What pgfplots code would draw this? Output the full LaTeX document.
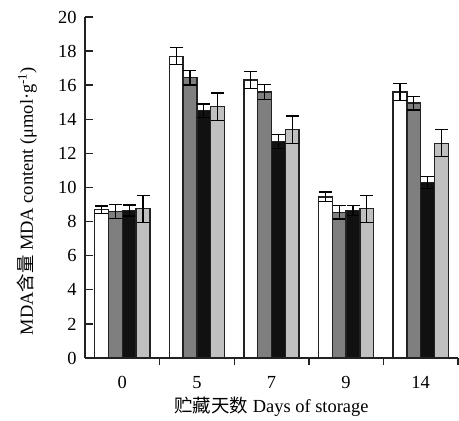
\documentclass[border=0pt]{standalone}
\usepackage{fontspec}
\setmainfont{Liberation Serif}
\newfontfamily\cjk{Noto Sans CJK SC}
\usepackage{pgfplots}
\pgfplotsset{compat=1.18}
\definecolor{gA}{HTML}{FFFFFF}
\definecolor{gB}{HTML}{7F7F7F}
\definecolor{gC}{HTML}{111111}
\definecolor{gD}{HTML}{C0C0C0}
\definecolor{edge}{HTML}{222222}
\pgfplotsset{myerr/.style={
    error bars/y dir=both, error bars/y explicit,
    error bars/error bar style={line width=1.3bp, black},
    error bars/error mark options={rotate=90, mark size=6.5bp, line width=1.3bp, black}}}
\begin{document}
\begin{tikzpicture}
\fontsize{18.5}{21}\selectfont
\begin{axis}[
  scale only axis,
  width=373bp, height=341bp,
  xmin=-0.5, xmax=4.5,
  ymin=0, ymax=20,
  axis lines=left,
  axis line style={line width=1.4bp, edge, -},
  xtick={0,1,2,3,4},
  xticklabels={0,5,7,9,14},
  major x tick style={draw=none},
  minor xtick={0.5,1.5,2.5,3.5,4.5},
  minor x tick style={line width=1.4bp, edge},
  minor tick length=7bp,
  ytick={0,2,...,20},
  y tick style={line width=1.4bp, edge},
  major tick length=8bp,
  tick align=inside,
  /pgf/number format/assume math mode=true,
  ticklabel style={font=\fontsize{18.5}{21}\selectfont},
  xticklabel style={yshift=-4bp},
  yticklabel style={xshift=-2bp},
  xlabel={{\cjk 贮藏天数} Days of storage},
  ylabel={MDA{\cjk 含量} MDA content (μmol·g\textsuperscript{-1})},
  label style={font=\fontsize{18.5}{21}\selectfont},
  xlabel style={yshift=4bp},
  ylabel style={at={(axis description cs:-0.155,0.46)}, anchor=center},
  ybar, bar width=0.185,
  clip=false,
]
\addplot[fill=gA, draw=edge, line width=1.3bp, bar shift=-0.2775, myerr] coordinates {
 (0,8.7) +- (0,0.22) (1,17.7) +- (0,0.5) (2,16.3) +- (0,0.5) (3,9.45) +- (0,0.28) (4,15.6) +- (0,0.48)};
\addplot[fill=gB, draw=edge, line width=1.3bp, bar shift=-0.0925, myerr] coordinates {
 (0,8.6) +- (0,0.4) (1,16.45) +- (0,0.43) (2,15.6) +- (0,0.45) (3,8.55) +- (0,0.4) (4,14.95) +- (0,0.4)};
\addplot[fill=gC, draw=edge, line width=1.3bp, bar shift=0.0925, myerr] coordinates {
 (0,8.65) +- (0,0.33) (1,14.5) +- (0,0.4) (2,12.7) +- (0,0.4) (3,8.65) +- (0,0.3) (4,10.3) +- (0,0.35)};
\addplot[fill=gD, draw=edge, line width=1.3bp, bar shift=0.2775, myerr] coordinates {
 (0,8.75) +- (0,0.8) (1,14.75) +- (0,0.8) (2,13.4) +- (0,0.8) (3,8.75) +- (0,0.8) (4,12.6) +- (0,0.8)};
\end{axis}
\pgfresetboundingbox
\path[use as bounding box] (-85bp,-63bp) rectangle (374bp,358bp);
\end{tikzpicture}
\end{document}
